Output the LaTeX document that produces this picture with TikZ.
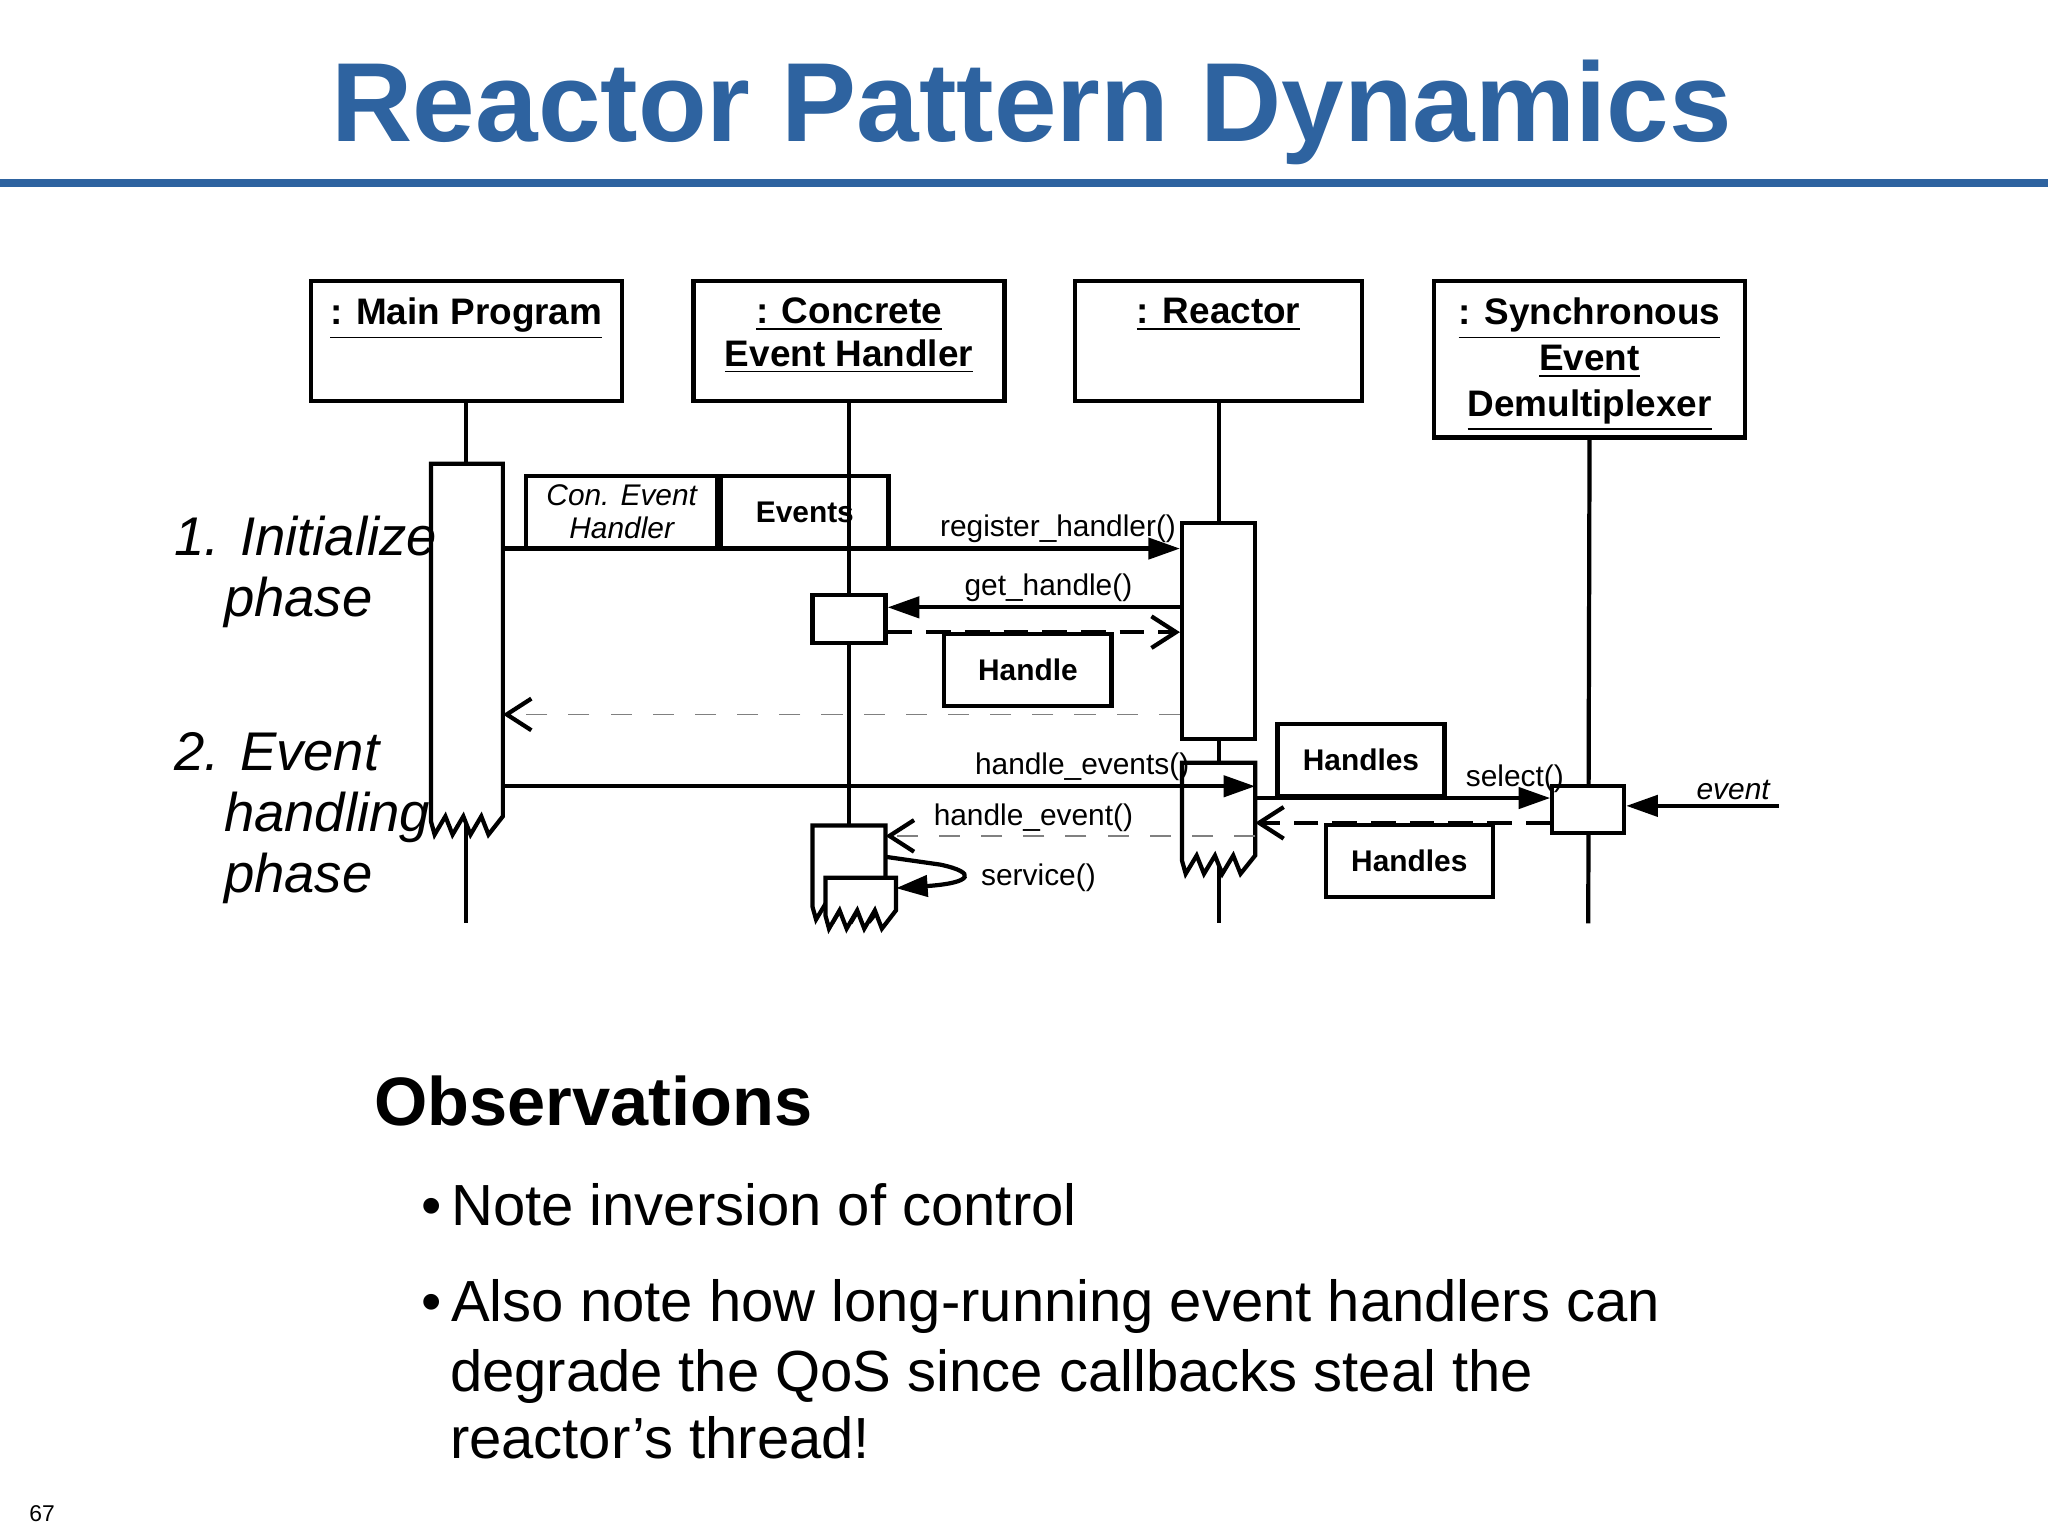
\documentclass[tikz,border=0pt]{standalone}
\usepackage{fontspec}
\setmainfont{Liberation Sans}
\usetikzlibrary{arrows.meta,positioning,calc}
\definecolor{titleblue}{RGB}{46,99,160}
\newcommand{\pu}{0.01306cm}
% activation with a torn bottom edge
\newcommand{\torn}[5]{%
\pgfmathsetmacro{\tw}{#4-#2}%
\draw[fill=white,line width=1.2pt] (#2,#5) -- (#2,#3) -- (#4,#3) -- (#4,#5)
  -- ({#4-0.2*\tw},#5+14) -- ({#4-0.3*\tw},#5) -- ({#4-0.45*\tw},#5+14)
  -- ({#4-0.55*\tw},#5) -- ({#4-0.7*\tw},#5+14) -- ({#4-0.8*\tw},#5)
  -- ({#4-0.95*\tw},#5+14) -- (#2,#5+4) -- cycle;
\coordinate (#1) at (#4,{(#3+#5)/2});}

\begin{document}
\begin{tikzpicture}[x=\pu,y=-\pu,
  obj/.style={draw,line width=1.2pt,inner sep=0pt,minimum height={#1*\pu}},
  act/.style={draw,fill=white,line width=1.2pt,inner sep=0pt,minimum width={56*\pu}},
  tag/.style={draw,line width=1.2pt,inner sep=0pt,minimum height={55*\pu},font=\fontsize{8.5}{10}\selectfont\bfseries},
  msg/.style={line width=1.2pt,-{Triangle[length=9pt,width=6pt]}},
  ret/.style={line width=1.2pt,dash pattern=on 7pt off 4pt,-{Straight Barb[length=7pt,width=9pt]}},
  thinret/.style={gray,line width=0.5pt,dash pattern=on 6pt off 6pt,-{Straight Barb[length=7pt,width=9pt,black,line width=1.2pt]}},
  lbl/.style={font=\fontsize{8.5}{10}\selectfont,inner sep=1pt},
  phase/.style={font=\fontsize{15.5}{18}\selectfont\itshape,anchor=base west,inner sep=0pt},
  bul/.style={font=\fontsize{16.5}{20}\selectfont,anchor=base west,inner sep=0pt}]
\useasboundingbox (0,0) rectangle (1568,1176);

% title
\node[anchor=base,text=titleblue,font=\fontsize{32}{38}\selectfont\bfseries] (title) at (790,108) {Reactor Pattern Dynamics};
\coordinate (ruleL) at (0,140);
\coordinate (ruleR) at (1568,140);
\draw[titleblue,line width=2.2pt] (ruleL) -- (ruleR);

% objects
\node[obj=92,minimum width={238*\pu}] (main) at (357,261) {};
\node[obj=92,minimum width={238*\pu}] (ceh) at (650,261) {};
\node[obj=92,minimum width={220*\pu}] (reactor) at (933,261) {};
\node[obj=120,minimum width={238*\pu}] (sync) at (1217,275) {};
\node[below=2pt of main.north,font=\fontsize{10.5}{12}\selectfont\bfseries] {\underline{: Main Program}};
\node[below=2pt of ceh.north,font=\fontsize{10.5}{12}\selectfont\bfseries,align=center] {\underline{: Concrete}\\\underline{Event Handler}};
\node[below=2pt of reactor.north,font=\fontsize{10.5}{12}\selectfont\bfseries] {\underline{: Reactor}};
\node[below=2pt of sync.north,font=\fontsize{10.5}{13}\selectfont\bfseries,align=center] {\underline{: Synchronous}\\\underline{Event}\\\underline{Demultiplexer}};

% lifelines
\coordinate (mainE) at (357,707);
\coordinate (cehE) at (650,707);
\coordinate (reactorE) at (933,707);
\coordinate (syncE) at (1216,707);
\draw[line width=1.2pt] (main.south) -- (mainE);
\draw[line width=1.2pt] (ceh.south) -- (cehE);
\draw[line width=1.2pt] (reactor.south) -- (reactorE);
\draw[line width=1.2pt] (sync.south) -- (syncE);

% activations
\torn{mainact}{330}{355}{385}{625}
\node[act,minimum height={37*\pu}] (cehA) at (650,474) {};
\node[act,minimum height={165*\pu}] (reactA) at (933,483) {};
\torn{reactB}{905}{584}{961}{655}
\torn{cehB}{622}{632}{678}{690}
\torn{cehC}{632}{672}{686}{697}
\node[act,minimum height={36*\pu},minimum width={55*\pu}] (syncA) at (1216,620) {};

% phases
\node[phase] (ph1a) at (133,425) {1. Initialize};
\node[phase] (ph1b) at (171,472) {phase};
\node[phase] (ph2a) at (133,590) {2. Event};
\node[phase] (ph2b) at (171,637) {handling};
\node[phase] (ph2c) at (171,683) {phase};

% initialize phase
\node[draw,line width=1.2pt,inner sep=0pt,minimum width={146*\pu},minimum height={55*\pu},font=\fontsize{8.5}{9.5}\selectfont\itshape,align=center] (conTag) at (476,392) {Con. Event\\Handler};
\node[tag,minimum width={128*\pu},right=0pt of conTag] (evTag) {Events};
\draw[msg] (mainact |- 0,420) -- node[lbl,above,pos=0.82] {register\_handler()} (reactA.west |- 0,420);
\draw[msg] (reactA.west |- 0,465) -- node[lbl,above,pos=0.45] {get\_handle()} (cehA.east |- 0,465);
\draw[ret] (cehA.east |- 0,484) -- (reactA.west |- 0,484);
\node[tag,minimum width={128*\pu},anchor=north] (hTag) at (787,484) {Handle};
\draw[thinret] (reactA.west |- 0,547) -- (mainact |- 0,547);

% event handling phase
\draw[msg] (mainact |- 0,602) -- node[lbl,above,pos=0.77] {handle\_events()} (reactB |- 0,602);
\node[tag,minimum width={128*\pu},anchor=south] (hsTag) at (1042,611) {Handles};
\draw[msg] (reactB |- 0,611) -- node[lbl,above,pos=0.88] {select()} (syncA.west |- 0,611);
\draw[ret] (syncA.west |- 0,630) -- (reactB |- 0,630);
\node[tag,minimum width={128*\pu},anchor=north] (hs2Tag) at (1079,630) {Handles};
\coordinate (evSrc) at (1362,617);
\draw[msg] (evSrc) -- node[lbl,above,pos=0.3,font=\fontsize{8.5}{10}\selectfont\itshape] {event} (syncA.east |- 0,617);
\draw[thinret] (reactB |- 0,640) -- node[lbl,above,black,pos=0.6] {handle\_event()} (cehB |- 0,640);
\coordinate (svA) at (720,662);
\draw[msg] (cehB |- 0,656) -- (svA) .. controls (748,668) and (745,676) .. (cehC |- 0,680);
\node[lbl,anchor=west] (svc) at (748,672) {service()};

% observations
\node[anchor=base west,inner sep=0pt,font=\fontsize{19.5}{23}\selectfont\bfseries] (obs) at (286,862) {Observations};
\node[bul] (b1) at (322,938) {\textbullet\,Note inversion of control};
\node[bul] (b2) at (322,1012) {\textbullet\,Also note how long-running event handlers can};
\node[bul] (b3) at (344,1065) {degrade the QoS since callbacks steal the};
\node[bul] (b4) at (344,1117) {reactor’s thread!};
\node[anchor=base west,inner sep=0pt,font=\fontsize{6.5}{8}\selectfont] (pg) at (22,1165) {67};
\end{tikzpicture}
\end{document}
